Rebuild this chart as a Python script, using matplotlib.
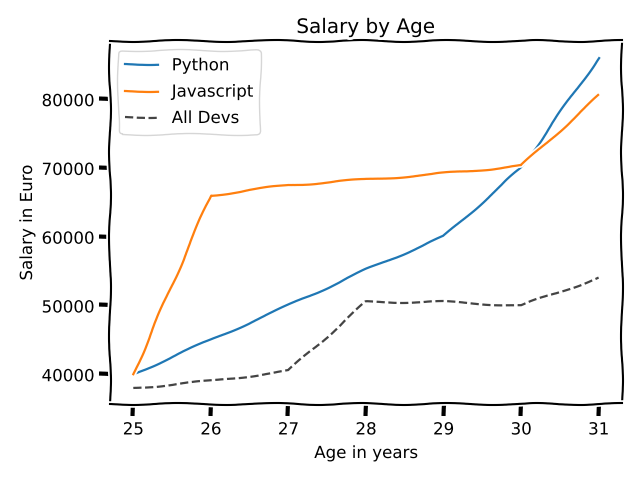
import matplotlib
matplotlib.use("Agg")
import matplotlib.pyplot as plt

ages = [25, 26, 27, 28, 29, 30, 31]
py_salary = [40000, 45000, 50000, 55200, 60000, 70000, 86000]
js_salary = [40000, 66000, 67500, 68300, 69200, 70300, 80500]
dev_salary = [38000, 39000, 40500, 50500, 50500, 50000, 54000]

plt.xkcd()
plt.rcParams['font.family'] = ['DejaVu Sans']
plt.rcParams['font.size'] = 12
plt.rcParams['lines.linewidth'] = 1.6

fig = plt.figure(figsize=(6.4, 4.8), dpi=100)
plt.plot(ages, py_salary, label="Python")
plt.plot(ages, js_salary, label="Javascript")
plt.plot(ages, dev_salary, color="#444444", linestyle="--", label="All Devs")

plt.xlabel("Age in years")
plt.ylabel("Salary in Euro")
plt.title("Salary by Age")
plt.legend()
plt.tight_layout()
plt.savefig("out.png")
